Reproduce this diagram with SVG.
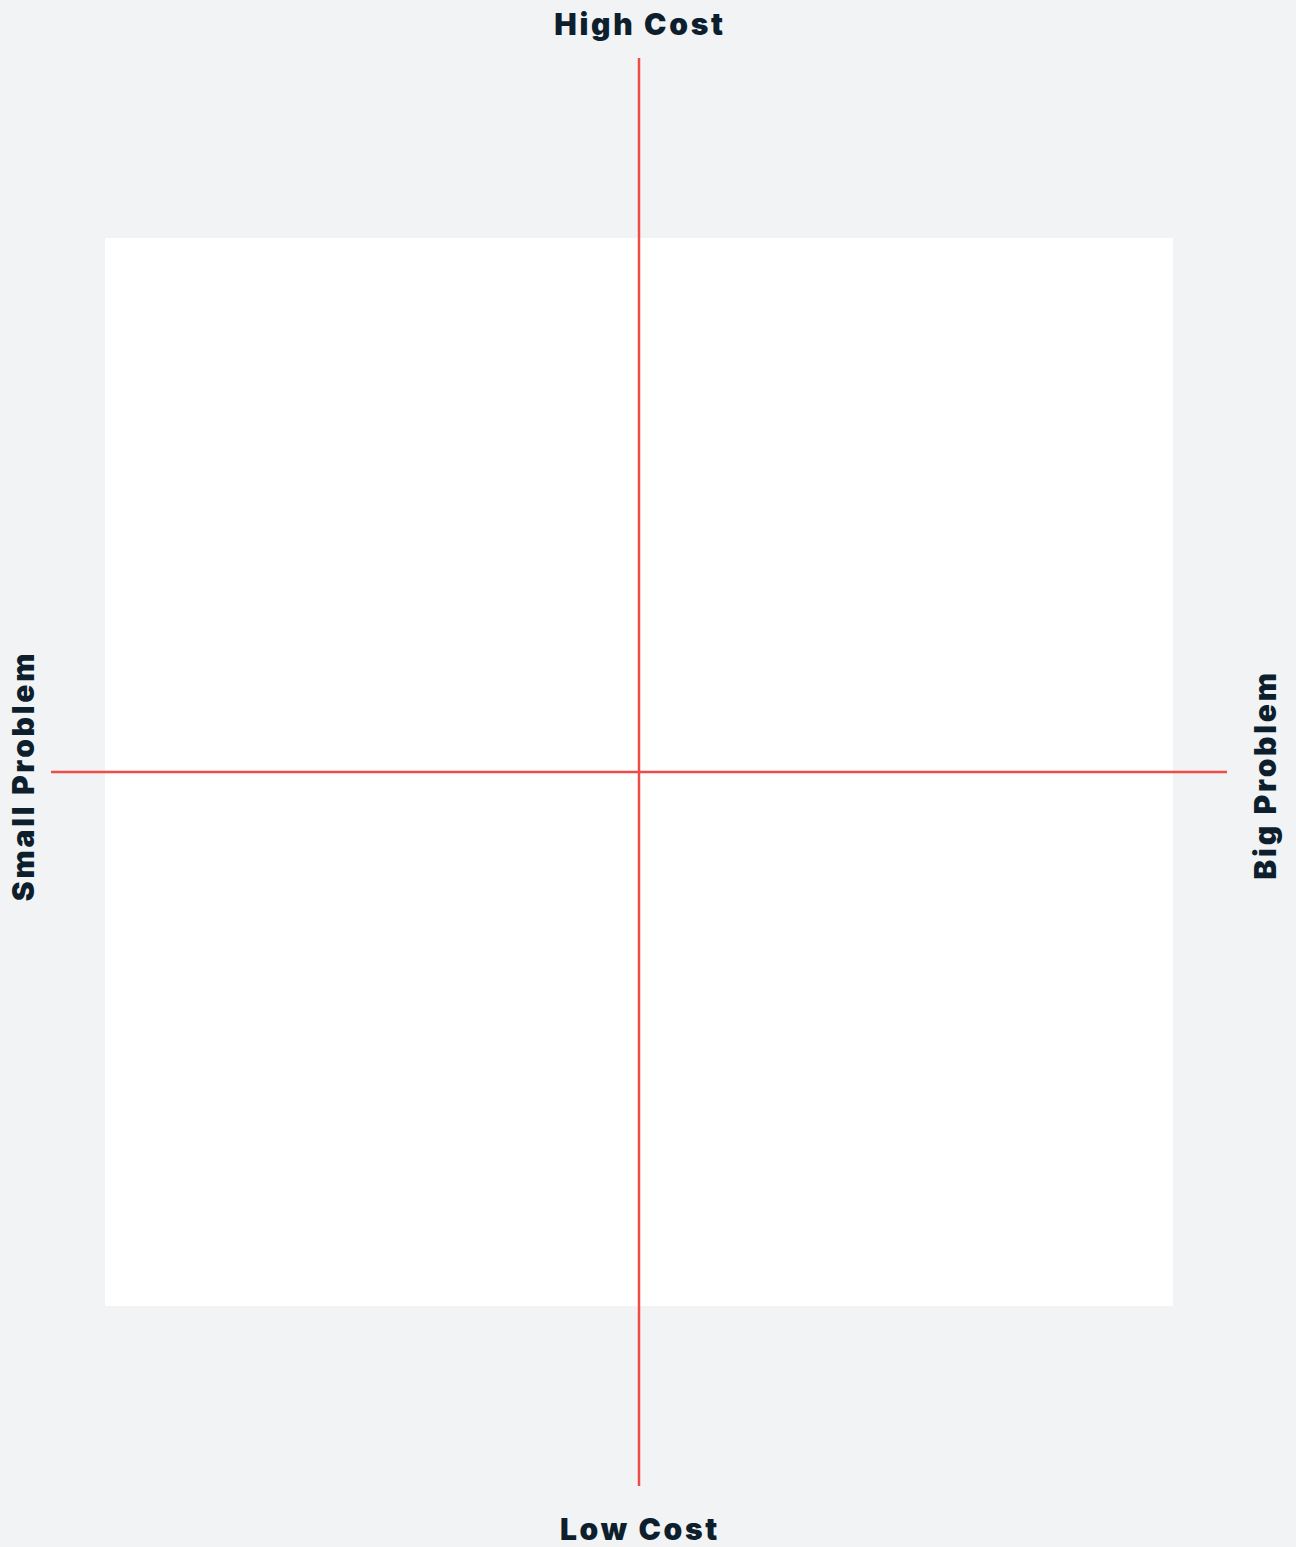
<svg xmlns="http://www.w3.org/2000/svg" width="1296" height="1547" viewBox="0 0 1296 1547">
<style>
.lbl{font-family:Inter,"Open Sans","Liberation Sans",sans-serif;font-weight:900;font-size:30px;letter-spacing:2.7px;fill:#0d1f2d;text-anchor:middle}
.axis{stroke:#ef4b47;stroke-width:2.5;fill:none}
</style>
<rect x="0" y="0" width="1296" height="1547" fill="#f2f3f5"/>
<g id="plot"><rect x="105" y="238" width="1068" height="1068" fill="#ffffff"/></g>
<g id="connectors">
<line class="axis" x1="639" y1="58" x2="639" y2="1486"/>
<line class="axis" x1="51" y1="772" x2="1227" y2="772"/>
</g>
<g id="label-top"><text class="lbl" x="640" y="35">High Cost</text></g>
<g id="label-bottom"><text class="lbl" x="640" y="1540">Low Cost</text></g>
<g id="label-left"><text class="lbl" transform="translate(34,776) rotate(-90)">Small Problem</text></g>
<g id="label-right"><text class="lbl" transform="translate(1276,775) rotate(-90)">Big Problem</text></g>
</svg>
